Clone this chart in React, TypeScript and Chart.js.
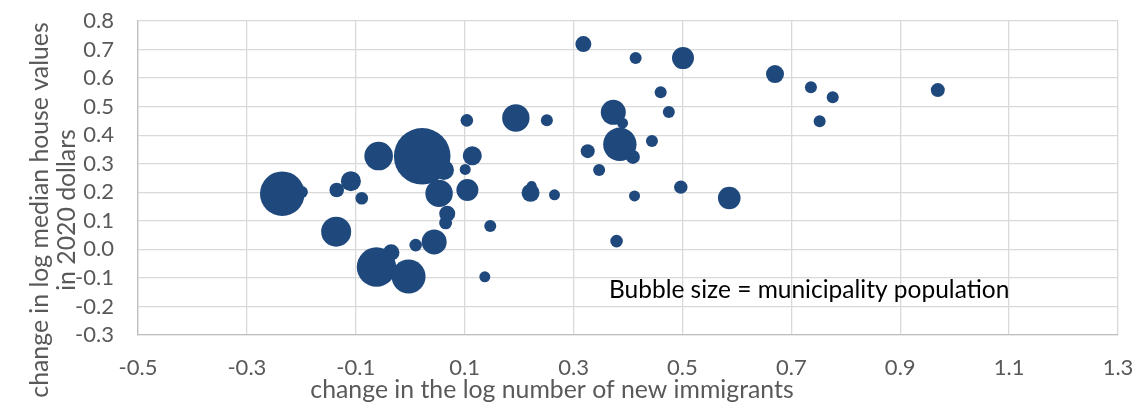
import React, { useEffect, useRef } from "react";
import { Chart, registerables } from "chart.js";

Chart.register(...registerables);

// change in the log number of new immigrants
const xValues = [
  0.318, 0.414, 0.501, 0.670, 0.736, 0.776, 0.969, 0.460, 0.475, 0.373,
  0.390, 0.194, 0.104, 0.251, 0.752, 0.444, 0.385, 0.326, 0.409, 0.347,
  0.022, -0.058, 0.114, 0.062, 0.101, -0.235, -0.199, -0.135, -0.109, -0.089,
  0.053, 0.105, 0.221, 0.223, 0.265, 0.412, 0.497, 0.586, 0.068, 0.065,
  0.147, -0.136, 0.379, 0.044, 0.010, -0.035, -0.062, -0.003, 0.137,
];
// change in log median house values in 2020 dollars
const yValues = [
  0.719, 0.670, 0.670, 0.614, 0.568, 0.533, 0.558, 0.550, 0.481, 0.480,
  0.442, 0.460, 0.452, 0.452, 0.449, 0.380, 0.368, 0.344, 0.324, 0.278,
  0.326, 0.327, 0.328, 0.278, 0.280, 0.195, 0.201, 0.208, 0.239, 0.179,
  0.196, 0.208, 0.198, 0.222, 0.191, 0.187, 0.218, 0.180, 0.125, 0.093,
  0.082, 0.062, 0.029, 0.026, 0.015, -0.011, -0.062, -0.095, -0.096,
];
// bubble radius (municipality population)
const bubbleRadius = [
  8, 6, 11, 9, 6, 6, 7, 6, 6, 12.5,
  5.5, 13.7, 6.3, 6, 6, 6, 16.7, 7, 7, 6,
  28.3, 14.3, 9.5, 10, 5.5, 22.3, 6, 7.3, 10, 6.3,
  13.7, 11, 9, 5, 5.5, 5.5, 6.7, 11.3, 8, 6.5,
  6, 15, 6.3, 12.5, 6.3, 8.3, 19.7, 17, 5.5,
];

const xTitle = "change in the log number of new immigrants";
const yTitleLines = ["change in log median house values", "in 2020 dollars"];
const noteText = "Bubble size = municipality population";
const notePosition = { x: 0.365, y: -0.143 };

const FONT = "Lato, 'Open Sans', sans-serif";
const GREY = "#595959";

const textPlugin = {
  id: "textPlugin",
  afterDraw(chart: any) {
    const ctx = chart.ctx;
    const xs = chart.scales.x;
    const ys = chart.scales.y;
    ctx.save();
    // annotation
    ctx.fillStyle = "#000000";
    ctx.font = `24.5px ${FONT}`;
    ctx.textAlign = "left";
    ctx.textBaseline = "middle";
    ctx.fillText(noteText, xs.getPixelForValue(notePosition.x), ys.getPixelForValue(notePosition.y));
    // x title
    ctx.fillStyle = GREY;
    ctx.font = `24.8px ${FONT}`;
    ctx.textAlign = "center";
    ctx.fillText(xTitle, 552, 390);
    // y title
    ctx.translate(0, 210);
    ctx.rotate(-Math.PI / 2);
    ctx.fillText(yTitleLines[0], 0, 40);
    ctx.fillText(yTitleLines[1], 0, 67);
    ctx.restore();
  },
};

export default function App() {
  const ref = useRef<HTMLCanvasElement>(null);
  useEffect(() => {
    if (!ref.current) return;
    const data = xValues.map((x, i) => ({ x, y: yValues[i], r: bubbleRadius[i] }));
    const chart = new Chart(ref.current, {
      type: "bubble",
      data: {
        datasets: [
          {
            data,
            backgroundColor: "#1F497D",
            borderColor: "#1F497D",
            borderWidth: 0,
            hoverRadius: 0,
            clip: false as any,
          },
        ],
      },
      options: {
        animation: false,
        responsive: false,
        events: [],
        layout: { autoPadding: false, padding: { left: 0, right: 17, top: 21, bottom: 0 } },
        plugins: { legend: { display: false }, tooltip: { enabled: false } },
        scales: {
          x: {
            type: "linear",
            min: -0.5,
            max: 1.3,
            afterFit: (s: any) => {
              s.height = 70;
              s.paddingLeft = 0;
              s.paddingRight = 0;
              s.paddingTop = 0;
              s.paddingBottom = 0;
            },
            afterBuildTicks: (s: any) => {
              const t = [];
              for (let i = 0; i <= 9; i++) t.push({ value: -0.5 + i * 0.2 });
              s.ticks = t;
            },
            ticks: {
              color: GREY,
              font: { family: FONT, size: 22 },
              padding: 20,
              maxRotation: 0,
              autoSkip: false,
              callback: (v: any) => Number(v).toFixed(1),
            },
            grid: { color: "#D9D9D9", lineWidth: 1.3, drawTicks: false },
            border: { color: "#BFBFBF", width: 1.3 },
          },
          y: {
            type: "linear",
            min: -0.3,
            max: 0.8,
            afterFit: (s: any) => {
              s.width = 138;
              s.paddingLeft = 0;
              s.paddingRight = 0;
              s.paddingTop = 0;
              s.paddingBottom = 0;
            },
            afterBuildTicks: (s: any) => {
              const t = [];
              for (let i = 0; i <= 11; i++) t.push({ value: -0.3 + i * 0.1 });
              s.ticks = t;
            },
            ticks: {
              color: GREY,
              font: { family: FONT, size: 22 },
              padding: 24,
              autoSkip: false,
              callback: (v: any) => Number(v).toFixed(1),
            },
            grid: { color: "#D9D9D9", lineWidth: 1.3, drawTicks: false },
            border: { color: "#BFBFBF", width: 1.3 },
          },
        },
      },
      plugins: [textPlugin],
    });
    return () => chart.destroy();
  }, []);
  return (
    <div style={{ position: "absolute", left: 0, top: 0, width: 1135, height: 405, background: "#fff" }}>
      <canvas ref={ref} width={1135} height={405} />
    </div>
  );
}
